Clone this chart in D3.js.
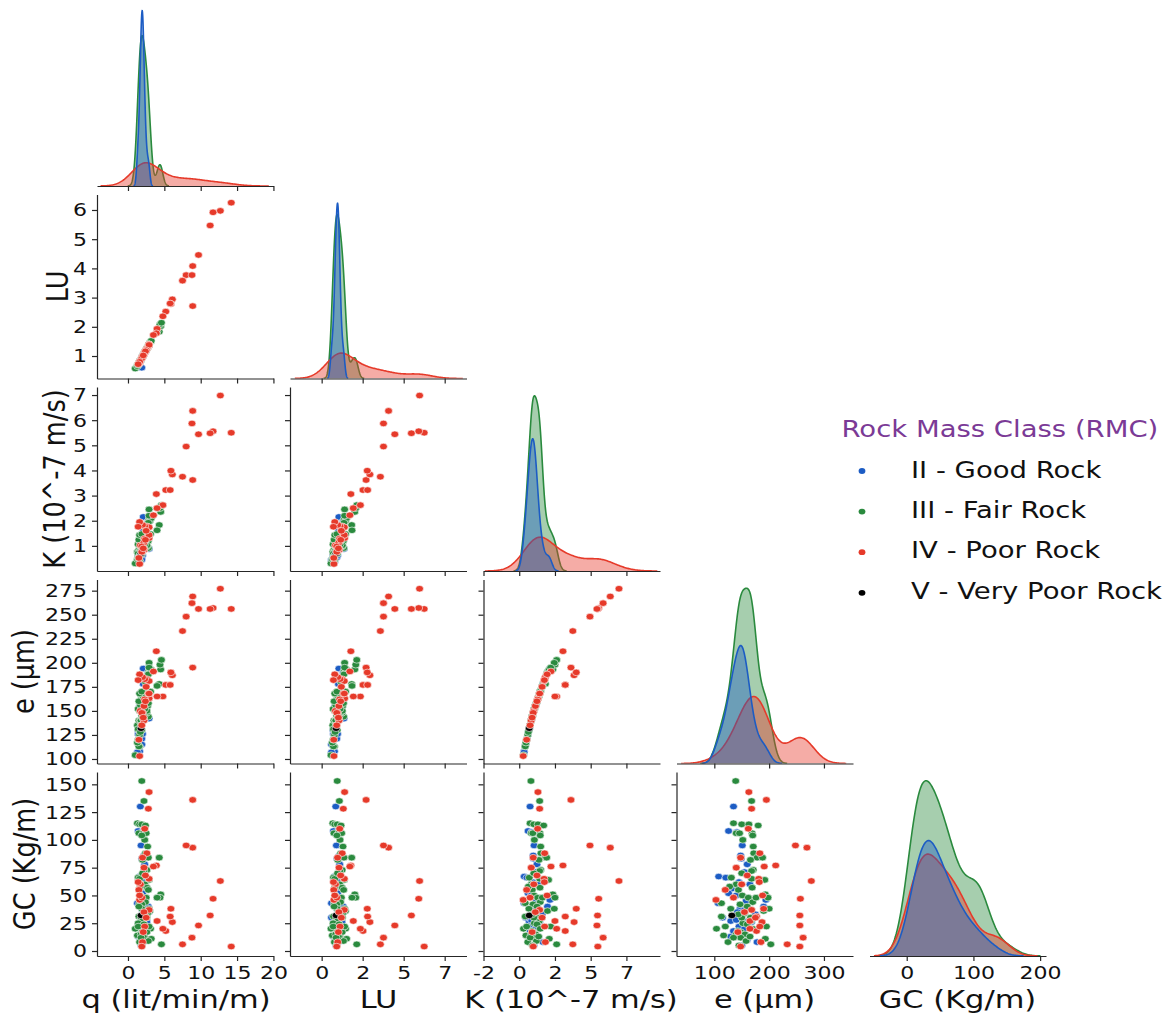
<!DOCTYPE html>
<html>
<head>
<meta charset="utf-8">
<script src="https://cdn.jsdelivr.net/npm/d3@7"></script>
<style>
  body { margin: 0; background: #fff; }
  text { font-family: "DejaVu Sans", sans-serif; }
</style>
</head>
<body>
<svg id="chart"></svg>
<script>
// every record is [q, LU, K, e, GC]
var variables = ["q", "LU", "K", "e", "GC"];
var axisTitles = ["q (lit/min/m)", "LU", "K (10^-7 m/s)", "e (\u03bcm)", "GC (Kg/m)"];
var classNames = ["II - Good Rock", "III - Fair Rock", "IV - Poor Rock", "V - Very Poor Rock"];
var classColors = ["#1c5cc4", "#2a8a3e", "#e63a2a", "#000000"];

var goodRock = [
  [1.7, 0.86, 0.76, 135, 130], [1.4, 0.72, 0.62, 126, 108], [2.0, 0.99, 0.86, 141, 107],
  [1.8, 0.90, 1.04, 151, 95],  [2.2, 1.08, 0.98, 148, 86],  [1.9, 0.94, 1.00, 149, 83],
  [2.3, 1.12, 1.13, 155, 71],  [1.6, 0.78, 0.35, 108, 67],  [1.9, 0.92, 0.54, 121, 66],
  [1.7, 0.84, 0.70, 131, 56],  [2.0, 0.97, 0.62, 126, 52],  [1.3, 0.60, 0.34, 107, 43],
  [2.1, 1.05, 2.15, 194, 46],  [2.8, 1.32, 1.98, 190, 40],  [1.9, 0.93, 0.96, 147, 38],
  [2.0, 1.00, 1.13, 155, 37],  [1.8, 0.86, 0.68, 130, 27],  [2.1, 1.02, 0.84, 140, 28],
  [2.4, 1.16, 1.29, 162, 27],  [2.6, 1.24, 1.43, 168, 26],  [1.9, 0.94, 0.93, 145, 22],
  [1.6, 0.80, 1.13, 155, 20],  [1.4, 0.70, 0.68, 130, 13],  [2.2, 1.07, 1.24, 160, 10],
  [1.8, 0.88, 1.02, 150, 5],   [1.9, 0.60, 0.45, 115, 30],  [2.0, 0.99, 1.36, 165, 60],
  [2.2, 1.06, 1.20, 158, 45],  [1.7, 0.84, 0.84, 140, 50],  [2.5, 1.18, 1.60, 175, 33],
  [2.0, 0.98, 1.06, 152, 15],  [2.1, 1.02, 1.66, 178, 8],   [1.8, 0.87, 0.76, 135, 18],
  [2.1, 1.01, 0.93, 145, 62],  [2.3, 1.10, 1.24, 160, 78],  [2.9, 1.36, 0.88, 142, 35]
];

var fairRock = [
  [1.9, 0.95, 0.82, 139, 153], [2.2, 1.08, 1.43, 168, 135], [1.3, 0.68, 0.76, 135, 115],
  [1.6, 0.80, 1.02, 150, 114], [1.9, 0.95, 1.31, 163, 114], [2.4, 1.18, 1.71, 180, 113],
  [1.5, 0.75, 0.84, 140, 106], [2.1, 1.04, 1.45, 169, 106], [2.5, 1.22, 0.95, 146, 106],
  [2.7, 1.30, 1.50, 171, 94],  [2.4, 1.16, 1.52, 172, 88],  [4.3, 1.83, 1.83, 178, 84],
  [2.0, 0.98, 1.38, 166, 82],  [2.6, 1.25, 1.50, 171, 73],  [2.2, 1.10, 1.43, 168, 72],
  [2.9, 1.38, 2.05, 192, 64],  [1.4, 0.72, 0.70, 131, 66],  [1.7, 0.85, 0.84, 140, 60],
  [2.3, 1.10, 1.00, 149, 60],  [2.6, 1.24, 1.45, 169, 57],  [2.8, 1.34, 0.91, 144, 55],
  [4.5, 2.02, 2.35, 193, 51],  [4.4, 2.08, 2.50, 198, 48],  [1.7, 0.82, 1.04, 151, 50],
  [2.5, 1.20, 1.29, 162, 48],  [1.6, 0.78, 0.42, 113, 43],  [2.4, 1.15, 1.47, 170, 44],
  [1.9, 0.92, 0.96, 147, 42],  [3.0, 1.45, 1.98, 190, 36],  [1.5, 0.72, 0.42, 113, 31],
  [2.7, 1.28, 1.13, 155, 34],  [1.8, 0.90, 1.38, 166, 30],  [2.0, 0.98, 1.40, 167, 27],
  [1.4, 0.70, 1.06, 152, 25],  [2.2, 1.07, 1.24, 160, 24],  [1.0, 0.57, 0.30, 104, 20],
  [3.1, 1.46, 1.47, 170, 20],  [2.6, 1.25, 0.98, 148, 17],  [1.7, 0.86, 1.15, 156, 15],
  [1.3, 0.65, 0.47, 117, 14],  [1.8, 0.86, 0.84, 140, 15],  [2.3, 1.12, 0.98, 148, 12],
  [3.2, 1.52, 2.10, 193, 11],  [2.8, 1.33, 1.20, 158, 9],   [4.6, 2.14, 2.62, 203, 6],
  [1.6, 0.78, 0.60, 125, 8],   [1.9, 0.92, 0.93, 145, 5],   [2.0, 0.99, 0.90, 143, 18],
  [1.9, 0.95, 0.68, 130, 38],  [1.5, 0.76, 1.24, 160, 40],  [2.6, 1.26, 1.02, 150, 30],
  [1.4, 0.70, 0.52, 120, 22],  [2.1, 1.02, 1.36, 165, 13],  [4.0, 1.85, 1.62, 176, 48],
  [2.2, 1.06, 0.91, 144, 33],  [2.9, 1.40, 2.45, 200, 38],  [1.8, 0.88, 0.76, 135, 12],
  [1.6, 0.80, 1.43, 168, 65],  [2.8, 1.36, 1.92, 188, 84],  [2.0, 0.97, 1.02, 150, 70],
  [1.7, 0.82, 0.64, 128, 58],  [2.9, 1.40, 2.20, 195, 22],  [2.3, 1.12, 1.06, 152, 100],
  [1.9, 0.93, 1.47, 170, 104]
];

var poorRock = [
  [14.2, 6.25, 5.50, 256, 4],  [12.7, 5.97, 6.98, 277, 63], [11.7, 5.92, 5.56, 257, 47],
  [11.3, 5.47, 5.48, 256, 32], [9.7, 4.46, 5.44, 256, 23],  [8.9, 4.08, 6.37, 269, 93],
  [8.0, 3.77, 4.95, 248, 95],  [8.8, 3.77, 5.87, 262, 12],  [7.5, 3.58, 3.75, 233, 6],
  [8.9, 2.71, 3.62, 195, 136], [6.1, 2.94, 3.84, 187, 26],  [5.9, 2.78, 3.99, 190, 38],
  [5.2, 2.52, 3.22, 177, 18],  [5.8, 2.80, 3.22, 177, 31],  [4.8, 2.36, 2.62, 165, 20],
  [4.0, 1.93, 2.50, 165, 27],  [3.9, 1.78, 3.06, 212, 77],  [3.5, 1.72, 2.22, 191, 76],
  [2.9, 1.40, 1.31, 163, 143], [2.8, 1.32, 1.43, 168, 128], [2.3, 1.10, 1.29, 162, 110],
  [2.6, 1.25, 1.78, 183, 88],  [2.0, 0.97, 0.98, 148, 84],  [2.2, 1.06, 0.84, 140, 75],
  [2.9, 1.38, 1.74, 181, 65],  [1.7, 0.84, 1.02, 150, 60],  [1.6, 0.75, 0.28, 103, 46],
  [1.9, 0.92, 0.76, 135, 48],  [2.9, 1.38, 1.43, 168, 37],  [2.2, 1.05, 1.13, 155, 35],
  [2.3, 1.12, 1.78, 183, 22],  [2.0, 0.98, 1.83, 185, 8],   [1.9, 0.92, 0.98, 148, 4],
  [1.5, 0.74, 0.52, 120, 55],  [2.5, 1.20, 1.60, 175, 30],  [2.4, 1.16, 1.24, 160, 68],
  [2.1, 1.02, 0.90, 143, 17],  [1.6, 0.80, 1.95, 188, 50],  [1.4, 0.72, 1.76, 182, 62]
];

var veryPoorRock = [
  [1.8, 0.88, 0.70, 132, 32]
];

// axis ticks per variable
var qTicks = [0, 5, 10, 15, 20];
var luTicks = [0, 2.5, 5, 7.5];
var kTicks = [-2.5, 0, 2.5, 5, 7.5];
var eTicks = [100, 200, 300];
var gcTicks = [0, 100, 200];
var luRowTicks = [1, 2, 3, 4, 5, 6];
var kRowTicks = [1, 2, 3, 4, 5, 6, 7];
var eRowTicks = [100, 125, 150, 175, 200, 225, 250, 275];
var gcRowTicks = [0, 25, 50, 75, 100, 125, 150];

var xTickValues = [qTicks, luTicks, kTicks, eTicks, gcTicks];
var yTickValues = [null, luRowTicks, kRowTicks, eRowTicks, gcRowTicks];

// axis limits (as in the figure)
var xLimits = [[-4.26, 20.01], [-1.93, 8.83], [-2.5, 9.85], [31, 353], [-55.8, 208.8]];
var yLimits = [null, [0.23, 6.53], [0, 7.32], [95.3, 286.6], [-4.5, 161.1]];

var width = 1171, height = 1016;
var colLeft = [97, 290, 483.5, 676.5, 869.5];
var rowTop = [2, 194.5, 387, 579.5, 772];
var panelW = 176.5, panelH = 184;
var STRETCH = 1.19;   // the original figure was saved a bit wider than tall
var yTitleX = [0, 68, 65, 33.5, 35];
var xTitleX = [176, 378.5, 571, 764.5, 957.5];
var spineColor = "#262626";

var svg = d3.select("#chart").attr("width", width).attr("height", height);
svg.append("rect").attr("width", width).attr("height", height).attr("fill", "#fff");

var classes = [goodRock, fairRock, poorRock, veryPoorRock];
var scatterOrder = [0, 1, 3, 2];   // dots: good, fair, very poor, poor
var kdeOrder = [1, 2, 0];          // fills: fair at the bottom, good on top
var nTotal = d3.sum(classes, function(c) { return c.length; });

var xScale = xLimits.map(function(d) { return d3.scaleLinear().domain(d).range([0, panelW]); });
var yScale = yLimits.map(function(d) { return d ? d3.scaleLinear().domain(d).range([panelH, 0]) : null; });

var truncFormat = function(v) { return String(Math.trunc(v)); };

function styleAxis(a) {
  a.attr("font-family", "DejaVu Sans, sans-serif").attr("font-size", 18.5).attr("color", spineColor);
  a.select(".domain").attr("stroke-width", 1.2);
  a.selectAll(".tick line").attr("stroke-width", 1.2);
  a.selectAll(".tick text").attr("fill", "#111");
}

function addBottomAxis(g, j, labels) {
  var ax = d3.axisBottom(xScale[j]).tickValues(xTickValues[j]).tickSize(5).tickPadding(5)
    .tickSizeOuter(0).tickFormat(labels ? truncFormat : function() { return ""; });
  var a = g.append("g").attr("transform", "translate(0," + panelH + ")").call(ax);
  styleAxis(a);
  a.selectAll(".tick text").attr("transform", "scale(" + STRETCH + ",1)");
}

function addLeftAxis(g, i, labels) {
  var ax = d3.axisLeft(yScale[i]).tickValues(yTickValues[i]).tickSize(5).tickPadding(5)
    .tickSizeOuter(0).tickFormat(labels ? truncFormat : function() { return ""; });
  var a = g.append("g").call(ax);
  styleAxis(a);
  a.selectAll(".tick text").attr("x", -10 / STRETCH).attr("transform", "scale(" + STRETCH + ",1)");
}

// gaussian kde, scott bandwidth, scaled by the class share (common norm)
function kdeCurve(vals) {
  var n = vals.length;
  var h = d3.deviation(vals) * Math.pow(n, -0.2);
  var lo = d3.min(vals) - 3 * h, hi = d3.max(vals) + 3 * h;
  var c = 1 / (n * h * Math.sqrt(2 * Math.PI)) * (n / nTotal);
  return d3.range(200).map(function(k) {
    var x = lo + (hi - lo) * k / 199;
    var s = d3.sum(vals, function(v) { var z = (x - v) / h; return Math.exp(-0.5 * z * z); });
    return [x, s * c];
  });
}

// diagonal panels
variables.forEach(function(v, i) {
  var g = svg.append("g").attr("transform", "translate(" + colLeft[i] + "," + rowTop[i] + ")");
  var clipId = "clip" + i;
  g.append("clipPath").attr("id", clipId).append("rect").attr("width", panelW).attr("height", panelH);

  var curves = kdeOrder.map(function(c) {
    return { cls: c, pts: kdeCurve(classes[c].map(function(r) { return r[i]; })) };
  });
  var ymax = d3.max(curves, function(cv) { return d3.max(cv.pts, function(p) { return p[1]; }); });
  var y = d3.scaleLinear().domain([0, ymax * 1.05]).range([panelH, 0]);
  var x = xScale[i];

  var area = d3.area().x(function(p) { return x(p[0]); }).y0(y(0)).y1(function(p) { return y(p[1]); });
  var line = d3.line().x(function(p) { return x(p[0]); }).y(function(p) { return y(p[1]); });

  var layer = g.append("g").attr("clip-path", "url(#" + clipId + ")");
  curves.forEach(function(cv) {
    layer.append("path").attr("d", area(cv.pts))
      .attr("fill", classColors[cv.cls]).attr("fill-opacity", 0.42);
    layer.append("path").attr("d", line(cv.pts))
      .attr("fill", "none").attr("stroke", classColors[cv.cls]).attr("stroke-width", 1.6);
  });

  addBottomAxis(g, i, i === 4);
});

// scatter panels, lower triangle
for (var i = 1; i < variables.length; i++) {
  for (var j = 0; j < i; j++) {
    var g = svg.append("g").attr("transform", "translate(" + colLeft[j] + "," + rowTop[i] + ")");
    var x = xScale[j], y = yScale[i];
    scatterOrder.forEach(function(c) {
      g.append("g").selectAll("ellipse").data(classes[c]).enter().append("ellipse")
        .attr("cx", function(d) { return x(d[j]); })
        .attr("cy", function(d) { return y(d[i]); })
        .attr("rx", 3.9).attr("ry", 3.3)
        .attr("fill", classColors[c])
        .attr("stroke", "#fff").attr("stroke-width", 0.6);
    });
    addBottomAxis(g, j, i === 4);
    addLeftAxis(g, i, j === 0);
  }
}

// axis titles
variables.forEach(function(v, j) {
  svg.append("text")
    .attr("transform", "translate(" + xTitleX[j] + ",1008) scale(" + STRETCH + ",1)")
    .attr("text-anchor", "middle").attr("font-size", 25.6).attr("fill", "#111")
    .text(axisTitles[j]);
  if (j > 0) {
    svg.append("text")
      .attr("transform", "translate(" + yTitleX[j] + "," + (rowTop[j] + panelH / 2) + ") scale(" + STRETCH + ",1) rotate(-90)")
      .attr("text-anchor", "middle").attr("font-size", 25.6).attr("fill", "#111")
      .text(axisTitles[j]);
  }
});

// legend
var legend = svg.append("g");
legend.append("text")
  .attr("transform", "translate(841.5,436.5) scale(1.17,1)")
  .attr("font-size", 23.5).attr("fill", "#7b3a96")
  .text("Rock Mass Class (RMC)");
classNames.forEach(function(name, c) {
  legend.append("ellipse").attr("cx", 862).attr("cy", 471 + c * 40.6)
    .attr("rx", 3.4).attr("ry", 2.9).attr("fill", classColors[c]);
  legend.append("text")
    .attr("transform", "translate(911," + (477.5 + c * 40.4) + ") scale(1.17,1)")
    .attr("font-size", 23.5).attr("fill", "#111")
    .text(name);
});
</script>
</body>
</html>
